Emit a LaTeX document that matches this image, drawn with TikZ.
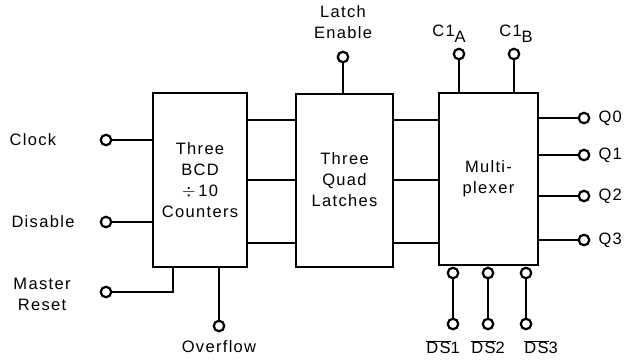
\documentclass[tikz,border=0pt]{standalone}
\usepackage{fontspec}
\setmainfont{Liberation Sans}[LetterSpace=8]
\usetikzlibrary{positioning}
\newcommand{\diagfont}{\fontsize{16.5}{21}\selectfont}
\tikzset{
  block/.style={draw, line width=2pt, align=center, font=\diagfont, inner sep=0pt},
  pin/.style={circle, draw, line width=2.2pt, fill=white, inner sep=0pt, minimum size=10.5pt},
  wire/.style={line width=2pt},
  tag/.style={align=center, font=\diagfont, inner sep=0pt},
}

\begin{document}
\begin{tikzpicture}[x=1pt, y=-1pt]
  \useasboundingbox (0,0) rectangle (629,359);

  % the three blocks
  \node[block, minimum width=94pt, minimum height=174pt] (cnt) at (200,180)
    {Three\\BCD\\$\div$\,10\\Counters};
  \node[block, minimum width=97pt, minimum height=173pt] (lat) at (344.5,180)
    {Three\\Quad\\Latches};
  \node[block, minimum width=99pt, minimum height=172pt] (mux) at (488.5,179)
    {Multi-\\plexer};

  % buses between blocks
  \foreach \y in {120,180,243} {
    \draw[wire] (cnt.east |- 0,\y) -- (lat.west |- 0,\y);
    \draw[wire] (lat.east |- 0,\y) -- (mux.west |- 0,\y);
  }

  % counter inputs
  \node[pin] (clk) at (106,140) {};
  \node[pin] (dis) at (106,222) {};
  \node[pin] (mr) at (106,292) {};
  \node[pin] (ovf) at (219,326) {};
  \draw[wire] (clk) -- (clk -| cnt.west);
  \draw[wire] (dis) -- (dis -| cnt.west);
  \draw[wire] (mr) -| (mr -| 173,0) -- (cnt.south -| 173,0);
  \draw[wire] (ovf) -- (ovf |- cnt.south);
  \node[tag] at (33,140) {Clock};
  \node[tag] at (43,222) {Disable};
  \node[tag] at (42,294) {Master\\Reset};
  \node[tag] at (219,347) {Overflow};

  % latch enable
  \node[pin] (le) at (343,57) {};
  \draw[wire] (le) -- (le |- lat.north);
  \node[tag] at (343,22) {Latch\\Enable};

  % multiplexer control
  \node[pin] (c1a) at (459,54) {};
  \node[pin] (c1b) at (514,54) {};
  \draw[wire] (c1a) -- (c1a |- mux.north);
  \draw[wire] (c1b) -- (c1b |- mux.north);
  \node[tag] at (449,34) {C1\raisebox{-6pt}{A}};
  \node[tag] at (516,34) {C1\raisebox{-6pt}{B}};

  % outputs
  \foreach \n/\y in {0/118,1/155,2/196,3/240} {
    \node[pin] (q\n) at (584,\y) {};
    \draw[wire] (q\n) -- (q\n -| mux.east);
    \node[tag, right=8pt of q\n] {Q\n};
  }

  % digit selects
  \foreach \n/\x/\t in {1/453/443,2/488/488,3/526/541} {
    \node[pin] (ds\n t) at (\x,273) {};
    \node[pin] (ds\n b) at (\x,324) {};
    \draw[wire] (ds\n t) -- (ds\n b);
    \node[tag] at (\t,347) {$\overline{\mbox{DS}}$\n};
  }
\end{tikzpicture}
\end{document}
